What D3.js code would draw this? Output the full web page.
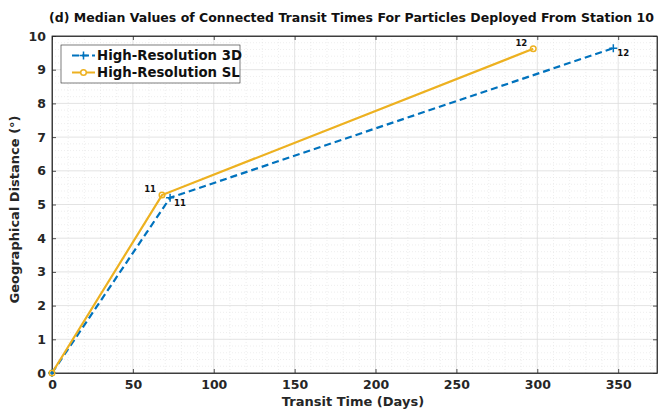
<!DOCTYPE html>
<html><head><meta charset="utf-8">
<script src="https://cdn.jsdelivr.net/npm/d3@7"></script>
<style>body{margin:0;background:#fff;} text{font-family:"DejaVu Sans",sans-serif;font-weight:bold;}</style>
</head><body><svg id="c" width="663" height="409"></svg>
<script>
const seriesNames = ["High-Resolution 3D", "High-Resolution SL"];
const days3D = [0, 73, 347];
const dist3D = [0, 5.2, 9.64];
const daysSL = [0, 68, 297.5];
const distSL = [0, 5.28, 9.62];
const pointLabels = ["", "11", "12"];
const xTicks = [0, 50, 100, 150, 200, 250, 300, 350];
const yTicks = [0,1,2,3,4,5,6,7,8,9,10];

const svg = d3.select("#c");
const L = 52, R = 657, T = 36, B = 373;
const x = d3.scaleLinear().domain([0, 374]).range([L, R]);
const y = d3.scaleLinear().domain([0, 10]).range([B, T]);

svg.append("rect").attr("x",L).attr("y",T).attr("width",R-L).attr("height",B-T).attr("fill","#fff");
const g = svg.append("g");
d3.range(10, 374, 10).filter(v => v % 50 !== 0).forEach(v => {
  g.append("line").attr("x1",x(v)).attr("x2",x(v)).attr("y1",T).attr("y2",B)
   .attr("stroke","#e2e2e2").attr("stroke-width",0.6).attr("stroke-dasharray","1,2");
});
d3.range(0.2, 10, 0.2).forEach(v => {
  if (Math.abs(v - Math.round(v)) < 1e-6) return;
  g.append("line").attr("x1",L).attr("x2",R).attr("y1",y(v)).attr("y2",y(v))
   .attr("stroke","#e2e2e2").attr("stroke-width",0.6).attr("stroke-dasharray","1,2");
});
xTicks.forEach(v => g.append("line").attr("x1",x(v)).attr("x2",x(v)).attr("y1",T).attr("y2",B).attr("stroke","#dcdcdc").attr("stroke-width",0.8));
yTicks.forEach(v => g.append("line").attr("x1",L).attr("x2",R).attr("y1",y(v)).attr("y2",y(v)).attr("stroke","#dcdcdc").attr("stroke-width",0.8));

svg.append("g").attr("transform",`translate(0,${B})`)
  .call(d3.axisBottom(x).tickValues(xTicks).tickSizeInner(-4).tickSizeOuter(0).tickPadding(7));
svg.append("g").attr("transform",`translate(${L},0)`)
  .call(d3.axisLeft(y).tickValues(yTicks).tickSizeInner(-4).tickSizeOuter(0).tickPadding(6));
svg.append("g").attr("transform",`translate(0,${T})`)
  .call(d3.axisTop(x).tickValues(xTicks).tickSizeInner(-4).tickSizeOuter(0).tickFormat(""));
svg.append("g").attr("transform",`translate(${R},0)`)
  .call(d3.axisRight(y).tickValues(yTicks).tickSizeInner(-4).tickSizeOuter(0).tickFormat(""));
svg.selectAll(".domain").attr("stroke","#262626").attr("stroke-width",0.8);
svg.selectAll(".tick line").attr("stroke","#262626").attr("stroke-width",0.8);
svg.selectAll(".tick text").attr("font-size",12.5).attr("fill","#262626").attr("font-family","DejaVu Sans").attr("font-weight","bold");
svg.append("rect").attr("x",L).attr("y",T).attr("width",R-L).attr("height",B-T).attr("fill","none").attr("stroke","#262626").attr("stroke-width",0.8);

const blue = "#0072BD", gold = "#EDB120";
const line = d3.line().x(d=>x(d[0])).y(d=>y(d[1]));
const d3D = days3D.map((d,i)=>[d, dist3D[i]]);
const dSL = daysSL.map((d,i)=>[d, distSL[i]]);
svg.append("path").datum(d3D).attr("d",line).attr("fill","none").attr("stroke",blue).attr("stroke-width",2.2).attr("stroke-dasharray","7,4");
svg.append("path").datum(dSL).attr("d",line).attr("fill","none").attr("stroke",gold).attr("stroke-width",2.2);
d3D.forEach(p => {
  svg.append("path").attr("d",`M${x(p[0])-4},${y(p[1])}h8M${x(p[0])},${y(p[1])-4}v8`).attr("stroke",blue).attr("stroke-width",1.5);
});
dSL.forEach(p => {
  svg.append("circle").attr("cx",x(p[0])).attr("cy",y(p[1])).attr("r",2.8).attr("fill","none").attr("stroke",gold).attr("stroke-width",1.5);
});
d3D.forEach((p,i) => { if (!pointLabels[i]) return;
  svg.append("text").attr("x",x(p[0])+4).attr("y",y(p[1])+8).attr("font-size",8.5).attr("fill","#111").text(pointLabels[i]);
});
dSL.forEach((p,i) => { if (!pointLabels[i]) return;
  svg.append("text").attr("x",x(p[0])-6).attr("y",y(p[1])-3).attr("text-anchor","end").attr("font-size",8.5).attr("fill","#111").text(pointLabels[i]);
});

svg.append("text").attr("x",351.5).attr("y",22).attr("text-anchor","middle").attr("font-size",12).attr("fill","#111")
  .attr("textLength",605).attr("lengthAdjust","spacingAndGlyphs")
  .text("(d) Median Values of Connected Transit Times For Particles Deployed From Station 10");
svg.append("text").attr("x",353).attr("y",406).attr("text-anchor","middle").attr("font-size",13).attr("fill","#262626").text("Transit Time (Days)");
svg.append("text").attr("transform",`translate(19,${(T+B)/2 + 5}) rotate(-90)`).attr("text-anchor","middle").attr("font-size",13).attr("fill","#262626").text("Geographical Distance (°)");

const lg = svg.append("g");
lg.append("rect").attr("x",61).attr("y",45).attr("width",179).attr("height",38).attr("fill","#fff").attr("stroke","#262626").attr("stroke-width",0.6);
[[blue,true],[gold,false]].forEach((s,i) => {
  const yy = 55.5 + i*17;
  lg.append("line").attr("x1",72).attr("x2",95).attr("y1",yy).attr("y2",yy).attr("stroke",s[0]).attr("stroke-width",2).attr("stroke-dasharray", s[1] ? "7,3" : null);
  if (s[1]) lg.append("path").attr("d",`M79.5,${yy}h8M83.5,${yy-4}v8`).attr("stroke",s[0]).attr("stroke-width",1.5);
  else lg.append("circle").attr("cx",83.5).attr("cy",yy).attr("r",2.8).attr("fill","#fff").attr("stroke",s[0]).attr("stroke-width",1.5);
  lg.append("text").attr("x",97).attr("y",yy+4.5).attr("font-size",13.3).attr("fill","#111").text(seriesNames[i]);
});
</script></body></html>
